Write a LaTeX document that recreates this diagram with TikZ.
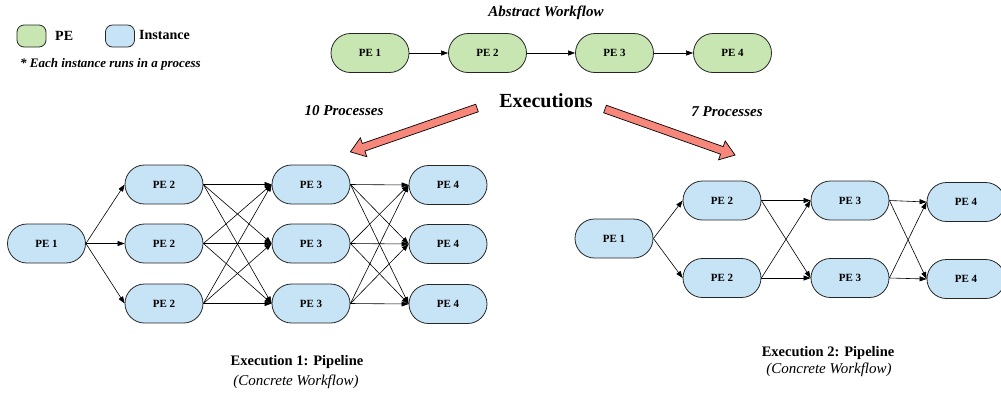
\documentclass[tikz,border=0pt]{standalone}
\usepackage{fontspec}
\setmainfont{Liberation Serif}
\usetikzlibrary{arrows.meta,shapes.misc}
\definecolor{pegreen}{RGB}{200,230,178}
\definecolor{instblue}{RGB}{198,228,246}
\definecolor{salmon}{RGB}{246,135,122}
\begin{document}
\begin{tikzpicture}[x=1pt,y=-1pt,
  pebox/.style={rounded rectangle, draw=black!85, line width=0.8pt, fill=pegreen,
    minimum width=78pt, minimum height=39pt, inner sep=0pt, font=\fontsize{11}{13}\selectfont\bfseries},
  instbox/.style={pebox, fill=instblue},
  conn/.style={-{Triangle[length=7pt,width=5pt]}, line width=0.6pt, black},
  bigarrow/.style={fill=salmon, draw=black, line width=0.7pt, line join=miter}
]
\useasboundingbox (0,0) rectangle (1001,392);

% legend
\node[draw=black!85, line width=0.8pt, fill=pegreen, rounded corners=7pt, minimum width=29pt, minimum height=22pt] (lgpe) at (31.5,36) {};
\node[anchor=west, font=\fontsize{14}{16}\selectfont\bfseries, inner sep=0pt] (lgpet) at (55,36) {PE};
\node[draw=black!85, line width=0.8pt, fill=instblue, rounded corners=7pt, minimum width=29pt, minimum height=22pt] (lgin) at (120,36) {};
\node[anchor=west, font=\fontsize{14}{16}\selectfont\bfseries, inner sep=0pt] (lgint) at (139,35) {Instance};
\node[anchor=west, font=\fontsize{13}{15}\selectfont\bfseries\itshape, inner sep=0pt] (note) at (20,64) {* Each instance runs in a process};

% abstract workflow
\node[font=\fontsize{15}{17}\selectfont\bfseries\itshape] (abs) at (546,13) {Abstract Workflow};
\node[pebox] (t1) at (370,53) {PE 1};
\node[pebox] (t2) at (487.5,53) {PE 2};
\node[pebox] (t3) at (614.5,53) {PE 3};
\node[pebox] (t4) at (732.5,53) {PE 4};
\draw[conn] (t1.east) -- (t2.west);
\draw[conn] (t2.east) -- (t3.west);
\draw[conn] (t3.east) -- (t4.west);

% executions
\node[font=\fontsize{20}{22}\selectfont\bfseries] (exe) at (546,101) {Executions};
\node[font=\fontsize{15}{17}\selectfont\bfseries\itshape] (p10) at (344,111) {10 Processes};
\node[font=\fontsize{15}{17}\selectfont\bfseries\itshape] (p7) at (727,112) {7 Processes};

\coordinate (lt) at (477,108);
\coordinate (rt) at (605,109);
\begin{scope}[shift={(lt)}, rotate=199.1]
  \draw[bigarrow] (0,-4) -- (120,-4) -- (120,-10) -- (134,0) -- (120,10) -- (120,4) -- (0,4) -- cycle;
\end{scope}
\begin{scope}[shift={(rt)}, rotate=-19.5]
  \draw[bigarrow] (0,-4) -- (124,-4) -- (124,-10) -- (138,0) -- (124,10) -- (124,4) -- (0,4) -- cycle;
\end{scope}

% execution 1
\node[instbox] (ea1) at (46.5,243.5) {PE 1};
\node[instbox] (ea2) at (164,184.5) {PE 2};
\node[instbox] (eb2) at (164,243.5) {PE 2};
\node[instbox] (ec2) at (164,303.5) {PE 2};
\node[instbox] (ea3) at (311,184.5) {PE 3};
\node[instbox] (eb3) at (311,243.5) {PE 3};
\node[instbox] (ec3) at (311,303.5) {PE 3};
\node[instbox] (ea4) at (448,185) {PE 4};
\node[instbox] (eb4) at (448,244) {PE 4};
\node[instbox] (ec4) at (448,304) {PE 4};
\foreach \t in {ea2,eb2,ec2} \draw[conn] (ea1.east) -- (\t.west);
\foreach \s in {ea2,eb2,ec2} \foreach \t in {ea3,eb3,ec3} \draw[conn] (\s.east) -- (\t.west);
\foreach \s in {ea3,eb3,ec3} \foreach \t in {ea4,eb4,ec4} \draw[conn] (\s.east) -- (\t.west);

\node[font=\fontsize{14.5}{16}\selectfont\bfseries] (c1a) at (297,362) {Execution 1: Pipeline};
\node[font=\fontsize{15}{17}\selectfont\itshape] (c1b) at (296,382) {(Concrete Workflow)};

% execution 2
\node[instbox] (fa1) at (614,238.5) {PE 1};
\node[instbox] (fa2) at (722,200.5) {PE 2};
\node[instbox] (fb2) at (722,278) {PE 2};
\node[instbox] (fa3) at (850,200.5) {PE 3};
\node[instbox] (fb3) at (850,278) {PE 3};
\node[instbox] (fa4) at (966,202) {PE 4};
\node[instbox] (fb4) at (966,279) {PE 4};
\foreach \t in {fa2,fb2} \draw[conn] (fa1.east) -- (\t.west);
\foreach \s in {fa2,fb2} \foreach \t in {fa3,fb3} \draw[conn] (\s.east) -- (\t.west);
\foreach \s in {fa3,fb3} \foreach \t in {fa4,fb4} \draw[conn] (\s.east) -- (\t.west);

\node[font=\fontsize{14.5}{16}\selectfont\bfseries] (c2a) at (828,353) {Execution 2: Pipeline};
\node[font=\fontsize{15}{17}\selectfont\itshape] (c2b) at (829,370) {(Concrete Workflow)};
\end{tikzpicture}
\end{document}
